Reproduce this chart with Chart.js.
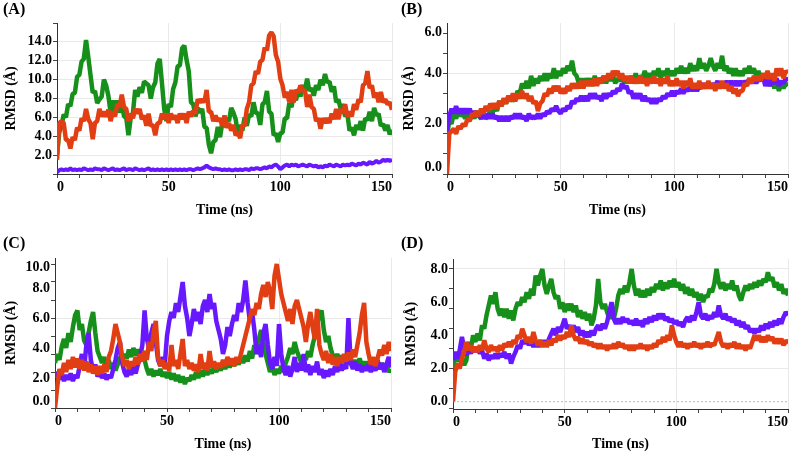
<!DOCTYPE html>
<html>
<head>
<meta charset="utf-8">
<script src="https://cdn.jsdelivr.net/npm/chart.js@4.4.1/dist/chart.umd.min.js"></script>
<style>
  body { margin: 0; background: #fff; }
  #wrap { position: relative; width: 790px; height: 453px; }
  #wrap canvas { position: absolute; }
  .tag { position: absolute; font: bold 16px 'Liberation Serif', 'Times New Roman', serif; color: #000; }
</style>
</head>
<body>
<div id="wrap">
  <canvas id="panel-a" width="395" height="225" style="left:0;top:0"></canvas>
  <canvas id="panel-b" width="395" height="225" style="left:395px;top:0"></canvas>
  <canvas id="panel-c" width="395" height="228" style="left:0;top:225px"></canvas>
  <canvas id="panel-d" width="395" height="228" style="left:395px;top:225px"></canvas>
  <div class="tag" style="left:3px;top:0px">(A)</div>
  <div class="tag" style="left:401px;top:0px">(B)</div>
  <div class="tag" style="left:3px;top:234px">(C)</div>
  <div class="tag" style="left:401px;top:234px">(D)</div>
</div>
<script>
// time axis, one frame per ns
const timeNs = Array.from({ length: 151 }, (_, i) => i);
const xTicks = [0, 10, 20, 30, 40, 50, 60, 70, 80, 90, 100, 110, 120, 130, 140, 150];
const xLabels = [0, 50, 100, 150];

// (A)
const yLabelsA = [2, 4, 6, 8, 10, 12, 14];
const greenA = [
  2.0, 4.4, 5.1, 6.3, 6.0, 7.4, 7.2, 8.5, 8.6, 10.3,
  10.5, 11.9, 12.2, 14.2, 12.4, 10.5, 8.6, 8.8, 7.5, 7.9,
  8.2, 10.0, 9.4, 8.3, 6.5, 7.8, 6.6, 7.8, 6.5, 7.6,
  6.1, 6.0, 4.1, 5.9, 6.5, 8.9, 8.2, 9.2, 8.6, 9.8,
  9.6, 9.4, 8.0, 9.2, 9.7, 11.7, 12.2, 9.6, 6.9, 5.6,
  7.4, 7.1, 9.0, 9.7, 11.4, 11.5, 13.3, 13.6, 12.1, 10.9,
  7.6, 7.4, 6.1, 7.0, 6.5, 6.9, 5.0, 4.9, 3.1, 2.2,
  3.4, 3.6, 5.0, 3.9, 5.4, 5.0, 5.9, 5.6, 7.0, 6.5,
  5.8, 4.2, 5.2, 4.6, 6.0, 5.1, 6.3, 6.1, 7.6, 6.5,
  6.4, 5.2, 7.4, 7.6, 8.8, 6.6, 6.4, 4.1, 4.3, 3.4,
  4.3, 4.4, 5.9, 5.9, 7.5, 7.1, 8.4, 7.8, 8.9, 8.2,
  9.4, 8.9, 10.1, 8.8, 9.1, 8.3, 9.4, 8.9, 10.0, 9.4,
  10.6, 9.7, 9.8, 8.7, 9.3, 7.6, 7.9, 6.9, 7.4, 6.1,
  6.4, 4.6, 4.9, 4.1, 5.2, 4.7, 5.6, 4.6, 5.9, 5.7,
  6.6, 5.6, 7.0, 6.2, 6.4, 5.1, 5.3, 4.6, 5.2, 4.2, 4.7
];
const redA = [
  1.5, 5.4, 5.6, 5.4, 3.6, 3.6, 2.7, 3.9, 3.6, 4.9,
  4.6, 5.9, 5.6, 6.9, 5.8, 5.4, 3.7, 5.4, 5.6, 6.9,
  6.1, 6.6, 6.1, 6.8, 5.6, 6.6, 6.1, 7.4, 7.1, 8.4,
  7.1, 6.9, 5.6, 6.4, 5.9, 6.9, 6.4, 6.9, 5.8, 6.2,
  5.1, 6.4, 5.1, 5.2, 4.1, 5.4, 5.4, 6.4, 5.8, 6.4,
  5.4, 6.4, 5.8, 6.2, 5.4, 6.4, 5.8, 6.4, 5.4, 6.6,
  6.1, 6.7, 6.4, 7.9, 7.6, 7.9, 7.6, 8.9, 6.6, 6.6,
  5.6, 6.2, 5.6, 5.9, 5.1, 6.2, 4.9, 5.4, 4.6, 5.2,
  4.1, 4.4, 3.8, 5.2, 5.1, 6.9, 7.6, 9.4, 9.6, 10.9,
  10.6, 11.9, 12.1, 13.4, 13.1, 14.7, 15.0, 14.6, 12.6, 11.9,
  10.1, 9.4, 8.1, 8.7, 7.6, 8.9, 7.6, 8.9, 8.6, 9.4,
  8.8, 8.9, 7.1, 8.4, 7.1, 6.9, 5.6, 5.9, 4.8, 5.9,
  5.4, 5.9, 5.4, 6.4, 5.8, 6.9, 5.8, 6.9, 6.4, 7.4,
  6.1, 6.6, 6.1, 7.4, 6.8, 7.9, 7.6, 9.4, 9.6, 10.9,
  9.1, 9.4, 8.1, 8.6, 7.6, 8.7, 7.6, 7.9, 7.4, 7.6, 6.8
];
const purpleA = [
  0.2, 0.4, 0.5, 0.4, 0.5, 0.4, 0.6, 0.4, 0.5, 0.4,
  0.5, 0.4, 0.6, 0.5, 0.4, 0.5, 0.4, 0.6, 0.5, 0.5,
  0.4, 0.6, 0.5, 0.4, 0.5, 0.6, 0.4, 0.5, 0.4, 0.5,
  0.6, 0.4, 0.5, 0.5, 0.4, 0.6, 0.5, 0.4, 0.5, 0.4,
  0.5, 0.6, 0.4, 0.5, 0.4, 0.5, 0.4, 0.5, 0.4, 0.5,
  0.4, 0.5, 0.4, 0.5, 0.4, 0.5, 0.4, 0.5, 0.4, 0.5,
  0.5, 0.4, 0.5, 0.6, 0.5, 0.6, 0.7, 0.9, 0.7, 0.6,
  0.5, 0.6, 0.5, 0.5, 0.4, 0.5, 0.4, 0.5, 0.4, 0.4,
  0.5, 0.4, 0.5, 0.4, 0.5, 0.5, 0.4, 0.6, 0.5, 0.6,
  0.6, 0.5, 0.6, 0.7, 0.6, 0.8, 0.7, 0.9, 1.0, 0.8,
  0.5, 0.7, 0.9, 1.0, 0.8, 1.0, 0.9, 1.0, 0.8, 0.9,
  1.0, 0.9, 0.8, 1.0, 0.9, 0.8, 0.9, 0.7, 0.8, 0.7,
  0.9, 0.8, 1.0, 0.9, 0.8, 1.0, 0.9, 0.8, 1.0, 0.9,
  1.0, 0.9, 1.1, 1.0, 0.9, 1.1, 1.0, 1.2, 1.1, 1.0,
  1.3, 1.1, 1.2, 1.4, 1.2, 1.3, 1.5, 1.4, 1.5, 1.4, 1.5
];

// (B)
const yLabelsB = [0, 2, 4, 6];
const greenB = [
  1.5, 2.1, 2.0, 2.4, 2.2, 2.5, 2.3, 2.4, 2.2, 2.4,
  2.2, 2.4, 2.2, 2.5, 2.3, 2.2, 2.4, 2.2, 2.3, 2.5,
  2.4, 2.7, 2.5, 2.9, 2.7, 3.0, 2.8, 3.1, 2.9, 3.0,
  2.9, 3.3, 3.2, 3.6, 3.4, 3.7, 3.4, 3.9, 3.5, 3.8,
  3.6, 3.9, 3.7, 4.0, 3.7, 4.0, 3.8, 4.2, 3.8, 4.1,
  3.9, 4.2, 4.0, 4.3, 4.1, 4.5, 4.0, 3.9, 3.6, 3.8,
  3.5, 3.8, 3.6, 3.8, 3.5, 3.9, 3.6, 3.8, 3.7, 3.9,
  3.6, 3.9, 3.7, 3.9, 3.6, 3.8, 3.7, 3.9, 3.6, 3.8,
  3.6, 3.9, 3.7, 4.0, 3.7, 3.9, 3.8, 4.1, 3.8, 4.0,
  3.8, 4.1, 3.9, 4.2, 3.8, 4.1, 3.9, 4.2, 3.9, 4.1,
  3.9, 4.2, 4.0, 4.3, 4.0, 4.2, 4.0, 4.4, 4.1, 4.3,
  4.1, 4.6, 4.2, 4.4, 4.1, 4.3, 4.6, 4.3, 4.1, 4.4,
  4.2, 4.7, 4.1, 4.3, 4.0, 4.2, 3.9, 4.2, 3.9, 4.1,
  3.9, 4.2, 4.0, 4.3, 4.0, 4.2, 3.9, 4.1, 3.8, 4.0,
  3.6, 3.9, 3.5, 3.8, 3.4, 3.7, 3.3, 3.6, 3.4, 3.6, 3.5
];
const redB = [
  0.0, 1.6, 1.7, 1.8, 1.6, 1.9, 1.8, 2.0, 1.9, 2.2,
  2.1, 2.4, 2.3, 2.5, 2.3, 2.6, 2.4, 2.7, 2.5, 2.8,
  2.6, 2.8, 2.6, 2.9, 2.7, 3.0, 2.8, 3.1, 2.9, 3.2,
  2.9, 3.2, 3.0, 3.3, 3.0, 3.2, 2.9, 3.1, 2.8, 2.9,
  2.5, 2.8, 2.9, 3.2, 3.1, 3.4, 3.2, 3.5, 3.3, 3.5,
  3.2, 3.4, 3.2, 3.5, 3.3, 3.6, 3.4, 3.6, 3.4, 3.7,
  3.4, 3.7, 3.5, 3.7, 3.5, 3.8, 3.5, 3.8, 3.6, 3.9,
  3.7, 4.0, 3.8, 4.1, 3.9, 4.1, 3.8, 4.0, 3.7, 3.9,
  3.6, 3.9, 3.6, 3.8, 3.6, 3.9, 3.6, 3.8, 3.5, 3.8,
  3.6, 3.9, 3.6, 3.8, 3.5, 3.8, 3.6, 3.9, 3.5, 3.7,
  3.5, 3.8, 3.5, 3.7, 3.4, 3.7, 3.5, 3.8, 3.4, 3.6,
  3.4, 3.7, 3.4, 3.6, 3.4, 3.7, 3.4, 3.6, 3.3, 3.6,
  3.4, 3.7, 3.4, 3.6, 3.3, 3.5, 3.2, 3.4, 3.1, 3.3,
  3.3, 3.6, 3.5, 3.8, 3.6, 3.9, 3.7, 3.9, 3.7, 4.0,
  3.8, 4.1, 3.8, 4.0, 3.7, 4.2, 3.9, 4.2, 3.8, 4.1, 4.0
];
const purpleB = [
  1.7, 2.3, 2.6, 2.4, 2.7, 2.4, 2.6, 2.4, 2.6, 2.4,
  2.6, 2.3, 2.5, 2.3, 2.4, 2.2, 2.4, 2.2, 2.4, 2.2,
  2.4, 2.2, 2.3, 2.1, 2.3, 2.1, 2.3, 2.1, 2.3, 2.2,
  2.4, 2.2, 2.4, 2.2, 2.3, 2.1, 2.4, 2.2, 2.3, 2.2,
  2.4, 2.2, 2.4, 2.3, 2.5, 2.4, 2.6, 2.5, 2.7, 2.5,
  2.4, 2.6, 2.5, 2.7, 2.6, 2.9, 2.8, 3.0, 2.9, 3.1,
  2.9, 3.1, 2.9, 3.2, 3.0, 3.2, 3.0, 3.1, 2.9, 3.2,
  3.0, 3.2, 3.1, 3.3, 3.2, 3.4, 3.3, 3.6, 3.4, 3.5,
  3.2, 3.3, 3.0, 3.2, 3.0, 3.2, 2.9, 3.1, 2.9, 3.0,
  2.8, 3.0, 2.8, 3.0, 2.9, 3.1, 3.0, 3.2, 3.1, 3.3,
  3.1, 3.3, 3.2, 3.4, 3.2, 3.4, 3.3, 3.5, 3.3, 3.5,
  3.3, 3.5, 3.4, 3.6, 3.4, 3.6, 3.4, 3.6, 3.5, 3.7,
  3.4, 3.6, 3.5, 3.7, 3.5, 3.7, 3.5, 3.7, 3.5, 3.7,
  3.5, 3.7, 3.6, 3.8, 3.6, 3.8, 3.6, 3.8, 3.7, 3.9,
  3.5, 3.7, 3.5, 3.7, 3.6, 3.8, 3.5, 3.7, 3.6, 3.8, 3.7
];

// (C)
const yLabelsC = [0, 2, 4, 6, 8, 10];
const greenC = [
  3.0, 3.6, 3.2, 4.1, 4.6, 4.0, 5.0, 4.4, 5.4, 6.2,
  6.5, 5.2, 5.6, 4.5, 4.2, 5.0, 5.8, 6.4, 5.0, 3.8,
  3.4, 3.0, 3.4, 2.7, 3.2, 2.6, 3.0, 2.5, 2.9, 3.4,
  3.2, 3.6, 3.3, 3.9, 3.4, 4.0, 3.5, 3.9, 3.4, 3.8,
  3.2, 2.6, 2.2, 2.6, 2.1, 2.5, 2.2, 2.6, 2.1, 2.4,
  2.0, 2.4, 1.9, 2.3, 1.8, 2.2, 1.7, 2.1, 1.6, 2.0,
  1.8, 2.2, 1.9, 2.4, 2.0, 2.5, 2.1, 2.6, 2.2, 2.6,
  2.3, 2.7, 2.4, 2.8, 2.5, 3.0, 2.6, 3.1, 2.7, 3.2,
  2.8, 3.2, 2.9, 3.4, 3.0, 3.5, 3.1, 3.8, 3.3, 4.2,
  3.6, 4.6, 5.2, 4.4, 3.6, 3.0, 2.4, 2.8, 2.2, 2.6,
  2.3, 2.8, 2.4, 3.0, 3.4, 4.0, 3.6, 4.4, 3.8, 3.4,
  3.0, 3.5, 3.2, 3.8, 3.4, 4.2, 4.8, 5.6, 6.2, 6.5,
  5.2, 4.4, 4.8, 4.0, 3.5, 3.2, 3.6, 3.1, 3.5, 3.0,
  3.4, 2.9, 3.3, 2.8, 3.2, 2.9, 3.3, 2.8, 3.1, 2.7,
  3.1, 2.6, 3.0, 2.5, 2.9, 2.6, 3.0, 2.5, 2.8, 2.4, 2.6
];
const redC = [
  0.0, 1.4, 2.6, 2.2, 3.0, 2.4, 3.2, 2.6, 3.4, 2.7,
  3.3, 2.6, 3.2, 2.5, 3.1, 2.4, 2.9, 2.3, 2.8, 2.2,
  2.8, 2.3, 2.9, 2.4, 3.4, 3.8, 4.6, 5.6, 5.0, 4.4,
  3.4, 2.8, 3.2, 2.6, 3.1, 2.8, 3.4, 2.9, 3.6, 3.1,
  3.8, 3.2, 4.4, 3.8, 5.0, 5.8, 3.4, 2.8, 3.2, 2.6,
  3.0, 2.5, 4.2, 2.8, 3.2, 2.6, 3.6, 4.6, 2.8, 3.2,
  2.6, 3.0, 2.5, 2.9, 2.4, 3.6, 2.6, 3.0, 2.5, 3.8,
  2.7, 3.1, 2.6, 3.0, 2.7, 3.2, 2.8, 3.4, 2.9, 3.3,
  2.8, 3.4, 3.0, 3.6, 4.2, 4.8, 5.4, 6.0, 6.6, 6.2,
  7.0, 6.6, 7.6, 8.2, 7.4, 8.4, 7.8, 6.6, 8.8, 9.6,
  8.6, 7.6, 7.0, 6.4, 5.8, 6.6, 5.6, 6.8, 7.2, 6.6,
  6.0, 5.4, 4.4, 5.6, 6.4, 5.4, 4.6, 6.6, 4.2, 3.6,
  3.2, 3.8, 3.0, 3.6, 2.9, 3.4, 2.8, 3.4, 3.0, 3.6,
  3.1, 3.7, 3.2, 3.9, 3.4, 4.2, 5.0, 6.2, 7.0, 4.4,
  3.6, 2.9, 3.4, 2.8, 3.3, 3.9, 3.5, 4.2, 3.6, 4.4, 3.8
];
const purpleC = [
  2.0, 2.4, 1.9, 2.3, 1.8, 2.2, 1.9, 2.3, 1.8, 2.2,
  2.0, 2.8, 3.6, 2.6, 4.2, 5.0, 3.2, 2.5, 2.9, 2.1,
  2.4, 2.0, 2.3, 1.9, 2.2, 2.0, 2.6, 3.2, 4.0, 4.4,
  3.0, 2.4, 2.1, 2.6, 2.2, 2.8, 2.3, 2.9, 3.4, 4.2,
  6.5, 4.6, 4.0, 5.0, 5.6, 4.4, 3.2, 2.8, 3.4, 2.9,
  4.8, 5.8, 6.4, 6.0, 7.0, 6.4, 7.4, 8.4, 6.8, 6.0,
  4.8, 5.6, 6.6, 5.8, 6.4, 5.6, 6.8, 7.2, 6.4, 7.6,
  6.6, 7.0, 5.8, 5.2, 4.6, 3.6, 4.2, 5.4, 4.8, 5.6,
  6.2, 5.8, 7.0, 6.4, 7.2, 8.5, 7.0, 5.8, 6.4, 5.2,
  3.6, 4.2, 3.4, 5.0, 5.6, 4.2, 3.0, 2.6, 3.4, 2.8,
  5.6, 3.6, 2.6, 2.2, 2.8, 2.1, 2.6, 3.4, 2.4, 3.0,
  2.5, 3.6, 2.4, 2.9, 2.2, 2.8, 2.4, 3.1, 2.2, 2.6,
  2.0, 2.5, 2.1, 2.6, 2.2, 2.8, 2.4, 3.0, 2.5, 2.9,
  2.6, 6.0, 3.0, 2.6, 3.1, 2.5, 2.9, 2.4, 2.8, 2.5,
  2.9, 2.4, 2.8, 2.5, 3.2, 2.6, 3.0, 2.4, 2.9, 3.4, 2.7
];

// (D)
const yLabelsD = [0, 2, 4, 6, 8];
const greenD = [
  2.0, 2.8, 2.4, 3.0, 2.6, 2.2, 2.5, 3.6, 3.2, 4.0,
  3.6, 4.1, 3.7, 4.6, 4.4, 5.2, 5.8, 6.4, 5.9, 6.6,
  5.6, 5.2, 5.6, 5.1, 5.6, 5.0, 5.5, 4.9, 5.6, 6.0,
  5.8, 6.3, 6.0, 6.6, 6.2, 6.8, 6.4, 7.6, 7.0, 7.6,
  8.0, 7.0, 6.5, 7.0, 7.4, 6.6, 6.2, 6.4, 5.6, 6.0,
  5.4, 5.9, 5.5, 5.9, 5.4, 5.8, 5.1, 5.5, 5.0, 5.4,
  4.9, 5.3, 4.6, 5.0, 5.8, 7.4, 6.0, 5.6, 5.9, 5.4,
  5.0, 5.4, 5.0, 5.6, 6.4, 6.8, 6.5, 7.0, 6.6, 7.2,
  8.0, 7.0, 6.4, 6.8, 6.3, 6.7, 6.3, 6.8, 6.4, 6.9,
  6.6, 7.1, 6.8, 7.3, 6.7, 7.2, 6.8, 7.3, 6.9, 7.4,
  6.9, 7.2, 6.7, 7.1, 6.5, 6.9, 6.4, 6.8, 6.3, 6.6,
  6.1, 6.5, 6.0, 6.4, 6.3, 6.8, 6.6, 7.1, 8.0, 7.2,
  6.8, 7.2, 6.7, 7.1, 6.8, 7.3, 6.7, 7.0, 6.4, 6.1,
  6.6, 7.0, 6.7, 7.1, 6.8, 7.2, 6.9, 7.3, 7.0, 7.4,
  7.2, 7.8, 7.3, 7.5, 6.9, 7.2, 6.7, 7.1, 6.5, 6.8, 6.4
];
const redD = [
  0.0, 1.8, 2.3, 2.0, 2.6, 3.0, 3.6, 3.1, 3.4, 3.0,
  3.3, 3.0, 3.4, 3.1, 3.7, 3.2, 3.0, 3.4, 3.1, 3.3,
  3.0, 3.4, 3.1, 3.5, 3.3, 3.6, 3.3, 3.7, 3.5, 4.0,
  3.8, 4.4, 4.0, 3.6, 3.9, 3.5, 4.2, 3.7, 3.4, 3.7,
  3.3, 3.6, 3.3, 3.7, 3.4, 3.8, 3.6, 4.0, 3.7, 4.0,
  3.8, 4.2, 3.9, 4.6, 4.0, 3.7, 3.9, 3.5, 3.8, 3.5,
  3.7, 3.4, 3.6, 3.3, 3.5, 3.2, 3.5, 3.2, 3.4, 3.1,
  3.4, 3.2, 3.5, 3.2, 3.6, 3.3, 3.5, 3.2, 3.4, 3.1,
  3.4, 3.1, 3.4, 3.2, 3.5, 3.2, 3.4, 3.1, 3.4, 3.2,
  3.5, 3.3, 3.7, 3.5, 3.9, 3.6, 4.0, 3.7, 4.6, 4.0,
  3.6, 3.3, 3.6, 3.3, 3.5, 3.2, 3.5, 3.3, 3.6, 3.3,
  3.5, 3.2, 3.5, 3.3, 3.6, 3.3, 3.5, 3.4, 3.8, 4.2,
  3.6, 3.3, 3.5, 3.2, 3.5, 3.3, 3.6, 3.2, 3.5, 3.2,
  3.4, 3.1, 3.4, 3.2, 3.6, 4.0, 3.7, 4.0, 3.6, 3.9,
  3.6, 4.0, 3.7, 3.9, 3.5, 3.8, 3.5, 3.8, 3.4, 3.7, 3.5
];
const purpleD = [
  2.5, 3.0, 2.6, 3.1, 3.9, 3.2, 2.8, 3.2, 2.9, 3.3,
  3.0, 3.3, 2.9, 3.1, 2.6, 2.9, 2.5, 2.8, 2.6, 2.9,
  2.6, 2.9, 2.7, 3.0, 2.6, 2.9, 2.3, 2.7, 3.0, 3.4,
  3.2, 3.7, 3.5, 3.8, 3.4, 3.7, 3.3, 3.6, 3.3, 3.7,
  3.4, 3.7, 3.4, 3.8, 4.1, 4.4, 4.0, 4.5, 4.2, 4.6,
  5.0, 4.4, 4.6, 4.3, 4.6, 4.2, 4.5, 4.0, 4.3, 3.9,
  4.2, 3.9, 4.3, 4.0, 4.4, 4.6, 4.3, 4.7, 4.4, 4.8,
  5.4, 6.0, 5.0, 4.7, 5.0, 4.7, 5.1, 4.8, 5.0, 4.7,
  4.9, 4.6, 5.0, 4.6, 4.9, 4.5, 5.0, 4.7, 5.1, 4.8,
  5.2, 4.9, 5.3, 5.0, 5.3, 4.9, 5.1, 4.8, 5.0, 4.7,
  4.9, 4.6, 4.8, 4.5, 4.9, 5.1, 4.8, 5.2, 4.9, 5.4,
  6.0, 5.2, 5.0, 5.3, 4.9, 5.2, 5.0, 5.4, 5.1, 5.8,
  5.2, 5.0, 5.3, 4.9, 5.1, 4.8, 5.0, 4.6, 4.9, 4.5,
  4.8, 4.4, 4.6, 4.2, 4.4, 4.1, 4.4, 4.2, 4.6, 4.3,
  4.7, 4.4, 4.8, 4.5, 4.9, 4.6, 5.0, 4.7, 5.1, 5.4, 5.2
];

const GREEN = '#16901a';
const RED = '#e23e14';
const PURPLE = '#6818ff';
const FONT = { family: "'Liberation Serif', 'Times New Roman', serif", size: 14, weight: 'bold' };

// y tick labels are drawn here so the end ones can stay inside the axis
const yLabelPlugin = {
  id: 'yLabels',
  beforeDatasetsDraw(chart, args, opts) {
    if (!opts.zeroLine) return;
    const { ctx, chartArea } = chart;
    const py = chart.scales.y.getPixelForValue(0);
    ctx.save();
    ctx.strokeStyle = '#b8b8b8';
    ctx.lineWidth = 1;
    ctx.setLineDash([2, 2]);
    ctx.beginPath();
    ctx.moveTo(chartArea.left, py);
    ctx.lineTo(chartArea.right, py);
    ctx.stroke();
    ctx.restore();
  },
  afterDraw(chart, args, opts) {
    const { ctx, chartArea } = chart;
    const y = chart.scales.y;
    ctx.save();
    ctx.font = `bold ${FONT.size}px ${FONT.family}`;
    ctx.fillStyle = '#000';
    ctx.textAlign = 'right';
    ctx.textBaseline = 'middle';
    opts.values.forEach(v => {
      let py = y.getPixelForValue(v);
      py = Math.min(Math.max(py, chartArea.top + 9), chartArea.bottom - 7);
      ctx.fillText(v.toFixed(1), chartArea.left - 5, py);
    });
    ctx.restore();
  }
};

function series(values, color, width) {
  return {
    data: timeNs.map((t, i) => ({ x: t, y: values[i] })),
    borderColor: color,
    borderWidth: width,
    borderJoinStyle: 'bevel',
    pointRadius: 0,
    fill: false,
    tension: 0
  };
}

function isMajor(v, list) {
  return list.some(m => Math.abs(m - v) < 1e-6);
}

function makePanel(id, p) {
  const yTicks = [];
  for (let k = 0; p.yMinor * k <= p.yMax + 1e-6; k++) {
    const v = Math.round(p.yMinor * k * 100) / 100;
    if (v >= p.yMin - 1e-6) yTicks.push(v);
  }
  if (p.yMin < 0) {
    for (let k = 1; -p.yMinor * k >= p.yMin; k++) yTicks.unshift(Math.round(-p.yMinor * k * 100) / 100);
  }

  return new Chart(document.getElementById(id), {
    type: 'line',
    data: {
      datasets: [
        series(p.red, RED, 4.5),
        series(p.purple, PURPLE, p.purpleWidth || 4.5),
        series(p.green, GREEN, 4.5)
      ]
    },
    plugins: [yLabelPlugin],
    options: {
      responsive: false,
      animation: false,
      devicePixelRatio: 1,
      layout: { padding: { top: p.padTop, right: p.padRight, left: 0, bottom: 0 } },
      plugins: {
        legend: { display: false },
        tooltip: { enabled: false },
        yLabels: { values: p.yLabels, zeroLine: !!p.zeroLine }
      },
      scales: {
        x: {
          type: 'linear',
          min: 0,
          max: 150,
          afterBuildTicks: s => { s.ticks = xTicks.map(v => ({ value: v })); },
          afterFit: s => { s.height = p.xAxisH; },
          ticks: {
            align: 'inner',
            autoSkip: false,
            maxRotation: 0,
            minRotation: 0,
            padding: 1,
            color: '#000',
            font: FONT,
            callback: v => (xLabels.includes(v) ? String(v) : '')
          },
          grid: {
            color: c => (c.tick && c.tick.value > 0 && xLabels.includes(c.tick.value) ? '#e9e9e9' : 'rgba(0,0,0,0)'),
            tickColor: '#444',
            tickLength: 4
          },
          border: { color: '#333' },
          title: { display: true, text: 'Time (ns)', color: '#000', font: FONT, padding: { top: 0, bottom: p.xTitlePad } }
        },
        y: {
          type: 'linear',
          min: p.yMin,
          max: p.yMax,
          afterBuildTicks: s => { s.ticks = yTicks.map(v => ({ value: v })); },
          afterFit: s => { s.width = p.yAxisW; },
          ticks: { callback: () => '', padding: 0 },
          grid: {
            color: c => (c.tick && isMajor(c.tick.value, p.yLabels) && c.tick.value !== 0 ? '#e9e9e9' : 'rgba(0,0,0,0)'),
            tickColor: '#444',
            tickLength: 4
          },
          border: { color: '#333' },
          title: { display: true, text: 'RMSD (Å)', color: '#000', font: FONT, padding: { top: p.yTitlePad, bottom: 0 } }
        }
      }
    }
  });
}

makePanel('panel-a', {
  green: greenA, red: redA, purple: purpleA, yLabels: yLabelsA, purpleWidth: 4,
  yMin: 0, yMax: 16, yMinor: 0.4,
  padTop: 23, padRight: 3, yAxisW: 57, xAxisH: 51, xTitlePad: 6, yTitlePad: 3
});
makePanel('panel-b', {
  green: greenB, red: redB, purple: purpleB, yLabels: yLabelsB,
  yMin: 0, yMax: 6, yMinor: 0.4,
  padTop: 23, padRight: 2, yAxisW: 52, xAxisH: 51, xTitlePad: 6, yTitlePad: 6
});
makePanel('panel-c', {
  green: greenC, red: redC, purple: purpleC, yLabels: yLabelsC,
  yMin: 0, yMax: 10, yMinor: 0.4,
  padTop: 33, padRight: 4, yAxisW: 55, xAxisH: 45, xTitlePad: 0, yTitlePad: 3
});
makePanel('panel-d', {
  green: greenD, red: redD, purple: purpleD, yLabels: yLabelsD,
  yMin: -0.44, yMax: 8.6, yMinor: 0.4, zeroLine: true,
  padTop: 34, padRight: 2, yAxisW: 58, xAxisH: 44, xTitlePad: 0, yTitlePad: 8
});
</script>
</body>
</html>
